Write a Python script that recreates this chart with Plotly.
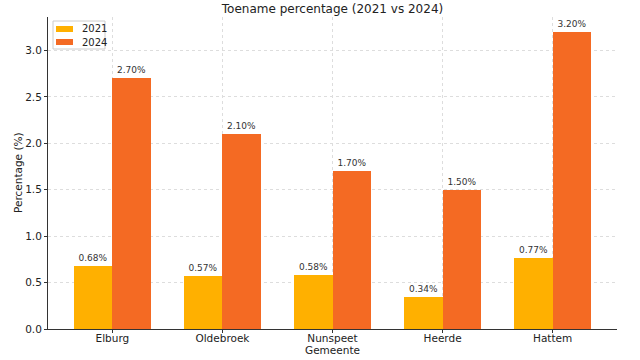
import plotly.graph_objects as go

gemeenten = ["Elburg", "Oldebroek", "Nunspeet", "Heerde", "Hattem"]
pct_2021 = [0.68, 0.57, 0.58, 0.34, 0.77]
pct_2024 = [2.70, 2.10, 1.70, 1.50, 3.20]
y_ticks = [0.0, 0.5, 1.0, 1.5, 2.0, 2.5, 3.0]
series_names = ["2021", "2024"]
series_colors = ["#FFB000", "#F46A23"]

x_idx = list(range(len(gemeenten)))
w = 0.35
font = "DejaVu Sans"

fig = go.Figure()
for k, (name, vals, col) in enumerate(zip(series_names, [pct_2021, pct_2024], series_colors)):
    off = -w / 2 if k == 0 else w / 2
    fig.add_trace(go.Bar(
        x=[i + off for i in x_idx], y=vals, width=w, name=name,
        marker=dict(color=col, line=dict(width=0)),
        text=[f"{v:.2f}%" for v in vals], textposition="outside",
        textfont=dict(family=font, size=9, color="#333333"), cliponaxis=False,
        showlegend=False,
    ))

# compact legend (matplotlib style)
L, T = 53, 21
shapes = [dict(type="rect", xref="paper", yref="paper",
               x0=(L - 48) / 569, x1=(105 - 48) / 569,
               y0=(329 - 49) / 312, y1=(329 - T) / 312,
               line=dict(color="#cccccc", width=1), fillcolor="rgba(255,255,255,0.8)", layer="above")]
annotations = []
for k, (name, col) in enumerate(zip(series_names, series_colors)):
    yc = 29 + 13 * k
    shapes.append(dict(type="rect", xref="paper", yref="paper",
                       x0=(56 - 48) / 569, x1=(73 - 48) / 569,
                       y0=(329 - yc - 3) / 312, y1=(329 - yc + 3) / 312,
                       line=dict(width=0), fillcolor=col, layer="above"))
    annotations.append(dict(text=name, xref="paper", yref="paper",
                            x=(80 - 48) / 569, y=(329 - yc) / 312, xanchor="left", yanchor="middle",
                            showarrow=False, font=dict(family=font, size=10, color="#222222")))

annotations.append(dict(text="Gemeente", xref="paper", yref="paper", x=0.5, y=-21 / 312,
                        xanchor="center", yanchor="middle", showarrow=False,
                        font=dict(family=font, size=10.5, color="#222222")))
annotations.append(dict(text="Percentage (%)", xref="paper", yref="paper", x=-30 / 569, y=0.5,
                        xanchor="center", yanchor="middle", textangle=-90, showarrow=False,
                        font=dict(family=font, size=10.5, color="#222222")))

fig.update_layout(
    width=640, height=360,
    margin=dict(l=48, r=23, t=17, b=31, autoexpand=False),
    paper_bgcolor="white", plot_bgcolor="white",
    font=dict(family=font, size=10, color="#222222"),
    title=dict(text="Toename percentage (2021 vs 2024)", x=(48 + 569 / 2) / 640, xanchor="center",
               y=1 - 9 / 360, yanchor="middle", font=dict(family=font, size=12, color="#222222")),
    barmode="overlay", bargap=0,
    showlegend=False,
    shapes=shapes, annotations=annotations,
    xaxis=dict(
        range=[-0.585, 4.585], tickmode="array", tickvals=x_idx, ticktext=gemeenten,
        showgrid=True, gridcolor="#dddddd", griddash="dot", gridwidth=1,
        showline=True, linecolor="#333333", linewidth=1,
        ticks="outside", ticklen=3, tickcolor="#333333", ticklabelstandoff=-4,
        tickfont=dict(family=font, size=10.5), automargin=False,
        zeroline=False,
    ),
    yaxis=dict(
        range=[0, 3.36], tickmode="array", tickvals=y_ticks,
        ticktext=[f"{t:.1f}" for t in y_ticks],
        showgrid=True, gridcolor="#dddddd", griddash="dot", gridwidth=1,
        showline=True, linecolor="#333333", linewidth=1,
        ticks="outside", ticklen=3, tickcolor="#333333",
        tickfont=dict(family=font, size=10.5), automargin=False,
        zeroline=False,
    ),
)

fig.write_html("out.html", config={"displayModeBar": False},
               post_script="document.body.style.margin='0';document.body.style.overflow='hidden';")
